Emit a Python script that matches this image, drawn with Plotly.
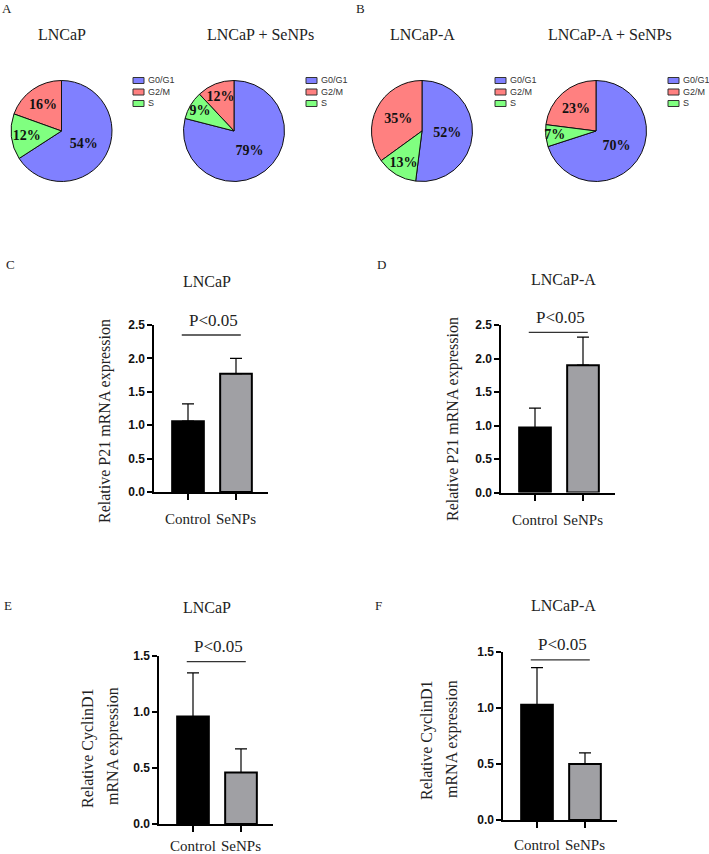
import plotly.graph_objects as go

W, H = 709, 854

# ---------------- data ----------------
phases = ["G0/G1", "G2/M", "S"]
phase_colors = ["#8080FF", "#FF8080", "#80FF80"]
pie_titles = ["LNCaP", "LNCaP + SeNPs", "LNCaP-A", "LNCaP-A + SeNPs"]
pie_lncap = [54, 16, 12]
pie_lncap_senps = [79, 12, 9]
pie_lncapa = [52, 35, 13]
pie_lncapa_senps = [70, 23, 7]
pie_values = [pie_lncap, pie_lncap_senps, pie_lncapa, pie_lncapa_senps]

groups = ["Control", "SeNPs"]
bar_colors = ["#000000", "#A0A0A4"]
bar_titles = ["LNCaP", "LNCaP-A", "LNCaP", "LNCaP-A"]
p21_lncap_mean = [1.06, 1.77]
p21_lncap_err = [0.26, 0.23]
p21_lncapa_mean = [0.97, 1.90]
p21_lncapa_err = [0.29, 0.42]
ccnd1_lncap_mean = [0.96, 0.46]
ccnd1_lncap_err = [0.39, 0.21]
ccnd1_lncapa_mean = [1.03, 0.50]
ccnd1_lncapa_err = [0.33, 0.10]
bar_means = [p21_lncap_mean, p21_lncapa_mean, ccnd1_lncap_mean, ccnd1_lncapa_mean]
bar_errs = [p21_lncap_err, p21_lncapa_err, ccnd1_lncap_err, ccnd1_lncapa_err]
y_ranges = [[0, 2.5], [0, 2.5], [0, 1.5], [0, 1.5]]
y_ticks = [[0, 0.5, 1.0, 1.5, 2.0, 2.5], [0, 0.5, 1.0, 1.5, 2.0, 2.5],
           [0, 0.5, 1.0, 1.5], [0, 0.5, 1.0, 1.5]]
y_titles = [["Relative P21 mRNA expression"], ["Relative P21 mRNA expression"],
            ["Relative CyclinD1", "mRNA expression"], ["Relative CyclinD1", "mRNA expression"]]
sig_label = "P<0.05"
sig_level = [2.35, 2.39, 1.45, 1.43]
panel_letters = ["A", "B", "C", "D", "E", "F"]

# ---------------- layout helpers ----------------
SERIF = "Liberation Serif, Times New Roman, serif"
SANS = "Liberation Sans, Arial, sans-serif"


def px(x):
    return x / W


def py(y):
    return 1 - y / H


fig = go.Figure()
annotations = []
shapes = []

# ---------- pies ----------
pie_cx = [61.5, 234, 422, 596]
pie_cy = 131
pie_r = 50.5
pie_title_x = [62, 260, 422, 610]
legend_rect_x = [133, 306, 495, 668]
legend_rows_y = [80.5, 92, 103.5]

for i, vals in enumerate(pie_values):
    cx = pie_cx[i]
    fig.add_trace(go.Pie(
        labels=phases, values=vals, sort=False, direction="counterclockwise",
        marker=dict(colors=phase_colors, line=dict(color="#111111", width=1)),
        texttemplate="%{value}%", textposition="inside",
        insidetextorientation="horizontal",
        textfont=dict(family=SERIF, size=14, color="#111111", weight="bold"),
        domain=dict(x=[px(cx - pie_r), px(cx + pie_r)],
                    y=[py(pie_cy + pie_r), py(pie_cy - pie_r)]),
        showlegend=False, hoverinfo="label+value",
    ))
    annotations.append(dict(x=px(pie_title_x[i]), y=py(34), xref="paper", yref="paper",
                             text=pie_titles[i], showarrow=False, xanchor="center",
                             yanchor="middle", font=dict(family=SERIF, size=16, color="#222")))
    # legend
    lx = legend_rect_x[i]
    for k, name in enumerate(phases):
        ry = legend_rows_y[k]
        shapes.append(dict(type="rect", xref="paper", yref="paper",
                           x0=px(lx), x1=px(lx + 11), y0=py(ry + 3), y1=py(ry - 3),
                           fillcolor=phase_colors[k], line=dict(color="#333", width=1)))
        annotations.append(dict(x=px(lx + 13), y=py(ry), xref="paper", yref="paper",
                                text=name, showarrow=False, xanchor="left", yanchor="middle",
                                font=dict(family=SANS, size=9, color="#333")))

# ---------- bars ----------
unit = 48.0
xr = [-0.7, 1.67]
tick0_px = [188, 535, 193, 537]
y_px = [[325, 492], [325, 492.5], [656, 824], [652, 820]]  # top, bottom of domain
label_standoff = [6, 6, 1, 4]
title_pos = [(207, 281), (563, 279), (207, 607), (563, 605)]
ytitle_pos = [[(105, 421)], [(453, 419)], [(88, 748), (113, 746)], [(427, 740), (452, 739)]]

for i in range(4):
    ax = "" if i == 0 else str(i + 1)
    left = tick0_px[i] + xr[0] * unit
    right = tick0_px[i] + xr[1] * unit
    top, bot = y_px[i]
    fig.add_trace(go.Bar(
        x=groups, y=bar_means[i], width=0.66,
        marker=dict(color=bar_colors, line=dict(color="#000000", width=2)),
        error_y=dict(type="data", array=bar_errs[i], arrayminus=[0, 0], symmetric=False,
                     color="#000000", thickness=1.2, width=6),
        xaxis="x" + ax, yaxis="y" + ax, showlegend=False,
    ))
    fig.update_layout(**{
        "xaxis" + ax: dict(domain=[px(left), px(right)], range=xr, anchor="y" + ax,
                           showline=True, linecolor="#000", linewidth=2,
                           ticks="outside", ticklen=6, tickwidth=2, tickcolor="#000",
                           showgrid=False, zeroline=False,
                           ticklabelstandoff=label_standoff[i],
                           tickangle=0, automargin=False,
                           tickfont=dict(family=SERIF, size=15, color="#222")),
        "yaxis" + ax: dict(domain=[py(bot), py(top)], range=y_ranges[i], anchor="x" + ax,
                           tickvals=y_ticks[i], ticktext=["%.1f" % t for t in y_ticks[i]],
                           showline=True, linecolor="#000", linewidth=2,
                           ticks="outside", ticklen=5, tickwidth=2, tickcolor="#000",
                           showgrid=False, zeroline=False, automargin=False,
                           tickfont=dict(family=SANS, size=12, color="#111", weight="bold")),
    })
    tx, ty = title_pos[i]
    annotations.append(dict(x=px(tx), y=py(ty), xref="paper", yref="paper", text=bar_titles[i],
                            showarrow=False, xanchor="center", yanchor="middle",
                            font=dict(family=SERIF, size=16, color="#222")))
    for (ax_x, ax_y), line in zip(ytitle_pos[i], y_titles[i]):
        annotations.append(dict(x=px(ax_x), y=py(ax_y), xref="paper", yref="paper", text=line,
                                showarrow=False, textangle=-90, xanchor="center", yanchor="middle",
                                font=dict(family=SERIF, size=16, color="#222")))
    # significance bracket
    shapes.append(dict(type="line", xref="x" + ax, yref="y" + ax, x0=-0.13, x1=1.1,
                       y0=sig_level[i], y1=sig_level[i], line=dict(color="#333", width=1.3)))
    annotations.append(dict(x=0.53, y=sig_level[i], xref="x" + ax, yref="y" + ax, text=sig_label,
                            showarrow=False, yshift=15, xanchor="center", yanchor="middle",
                            font=dict(family=SERIF, size=17, color="#222")))

letter_pos = [(7, 8), (360, 8), (10, 264), (381, 264), (8, 605), (379, 605)]
for (lx, ly), t in zip(letter_pos, panel_letters):
    annotations.append(dict(x=px(lx), y=py(ly), xref="paper", yref="paper", text=t,
                            showarrow=False, xanchor="center", yanchor="middle",
                            font=dict(family=SERIF, size=13, color="#222")))

fig.update_layout(template="none", width=W, height=H, margin=dict(l=0, r=0, t=0, b=0),
                  paper_bgcolor="white", plot_bgcolor="white",
                  uniformtext=dict(mode="show", minsize=14),
                  annotations=annotations, shapes=shapes, bargap=0.3)

fig.write_html("out.html", config={"displayModeBar": False},
               post_script="document.body.style.margin='0px';document.body.style.overflow='hidden';")
